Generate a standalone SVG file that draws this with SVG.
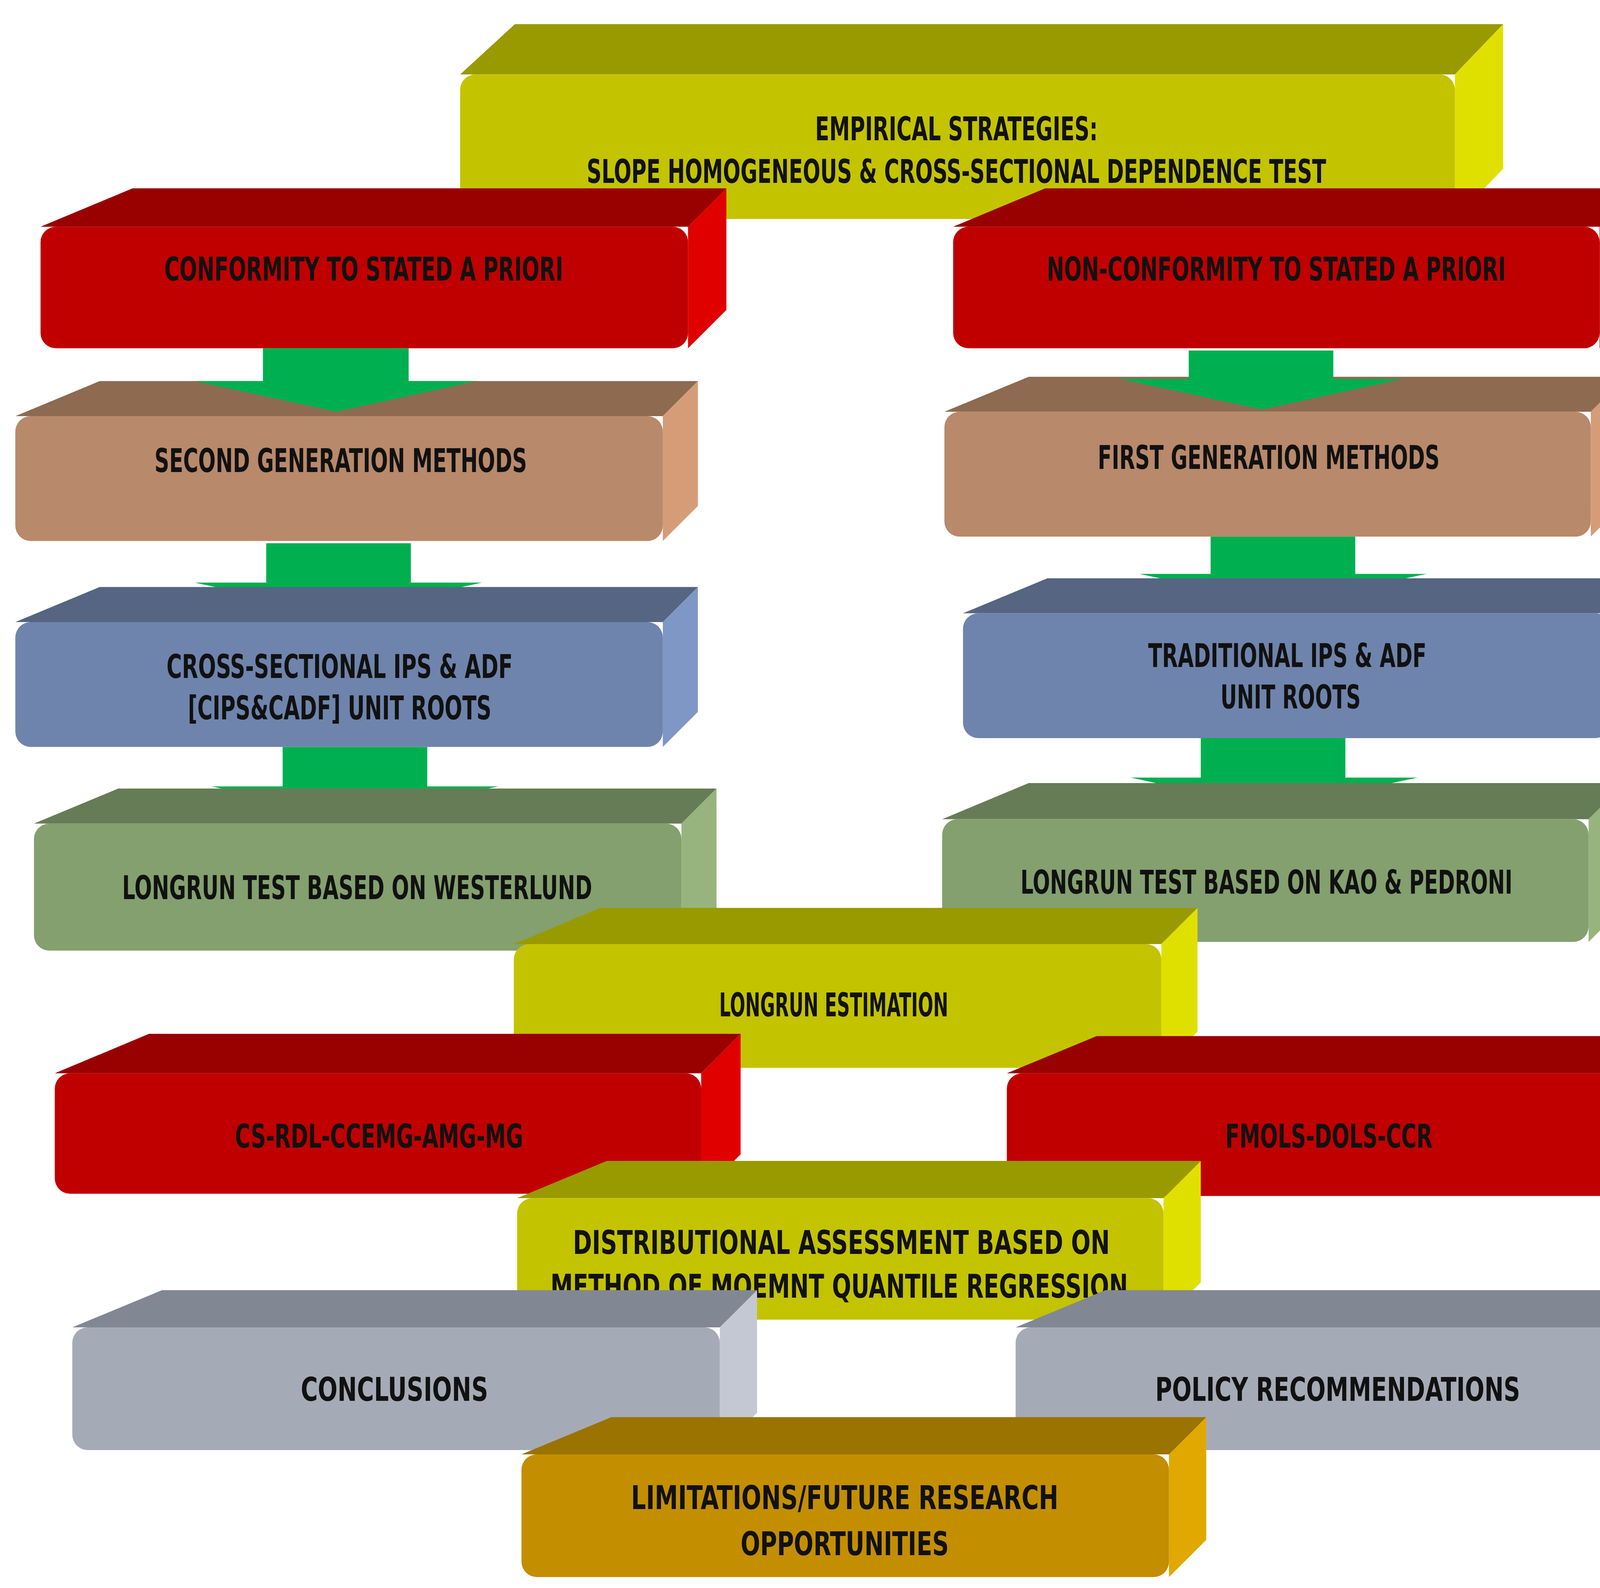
<svg xmlns="http://www.w3.org/2000/svg" width="4381" height="4064" viewBox="0 0 4381 4064">
<style>
text{font-family:"DejaVu Sans","Liberation Sans",sans-serif;font-stretch:condensed;font-weight:bold;fill:#111;text-anchor:middle;font-size:30px}
.yf{fill:#C3C300}.yt{fill:#999900}.ys{fill:#E0E000}
.rf{fill:#C00000}.rt{fill:#990000}.rs{fill:#E00000}
.bf{fill:#B8896A}.bt{fill:#8E6A50}.bs{fill:#D49D78}
.lf{fill:#6E84AC}.lt{fill:#556582}.ls{fill:#7F97C5}
.gf{fill:#84A06E}.gt{fill:#667C56}.gs{fill:#97B47E}
.sf{fill:#A5ABB6}.st{fill:#828794}.ss{fill:#C3C8D3}
.of{fill:#C38E00}.ot{fill:#9A7300}.os{fill:#E0A800}
.arr{fill:#00B050}
</style>
<rect width="4381" height="4064" fill="#fff"/>
<g transform="scale(2.8047 2.8028)">
<g id="empirical"><polygon class="yt" points="420,68 470,22 1372,22 1328,68"/><polygon class="ys" points="1328,68 1372,22 1372,154 1328,200"/><rect class="yf" x="420" y="68" width="908" height="132" rx="14"/><text x="873" y="128" textLength="258" lengthAdjust="spacingAndGlyphs">EMPIRICAL STRATEGIES:</text><text x="873" y="167" textLength="675" lengthAdjust="spacingAndGlyphs">SLOPE HOMOGENEOUS &amp; CROSS-SECTIONAL DEPENDENCE TEST</text></g>
<g id="conformity"><polygon class="rt" points="37,207 121,172 663,172 628,207"/><polygon class="rs" points="628,207 663,172 663,283 628,318"/><rect class="rf" x="37" y="207" width="591" height="111" rx="14"/><text x="332" y="256" textLength="364" lengthAdjust="spacingAndGlyphs">CONFORMITY TO STATED A PRIORI</text></g>
<g id="nonconformity"><polygon class="rt" points="870,207 954,172 1495,172 1460,207"/><polygon class="rs" points="1460,207 1495,172 1495,283 1460,318"/><rect class="rf" x="870" y="207" width="590" height="111" rx="14"/><text x="1165" y="256" textLength="419" lengthAdjust="spacingAndGlyphs">NON-CONFORMITY TO STATED A PRIORI</text></g>
<g id="second"><polygon class="bt" points="14,380 91,348 637,348 605,380"/><polygon class="bs" points="605,380 637,348 637,462 605,494"/><rect class="bf" x="14" y="380" width="591" height="114" rx="14"/><text x="311" y="431" textLength="340" lengthAdjust="spacingAndGlyphs">SECOND GENERATION METHODS</text></g>
<g id="first"><polygon class="bt" points="862,376 939,344 1484,344 1452,376"/><polygon class="bs" points="1452,376 1484,344 1484,458 1452,490"/><rect class="bf" x="862" y="376" width="590" height="114" rx="14"/><text x="1158" y="428" textLength="312" lengthAdjust="spacingAndGlyphs">FIRST GENERATION METHODS</text></g>
<g id="connectors">
<polygon class="arr" points="240,318 373,318 373,348 435,348 307,376 178,348 240,348"/>
<polygon class="arr" points="1085,320 1217,320 1217,346 1280,346 1152,374 1022,346 1085,346"/>
<polygon class="arr" points="243,496 375,496 375,532 440,532 309,560 178,532 243,532"/>
<polygon class="arr" points="1105,490 1237,490 1237,524 1302,524 1171,552 1040,524 1105,524"/>
<polygon class="arr" points="258,682 390,682 390,718 455,718 324,746 193,718 258,718"/>
<polygon class="arr" points="1096,674 1228,674 1228,710 1294,710 1162,738 1032,710 1096,710"/>
</g>
<g id="cross"><polygon class="lt" points="14,568 91,536 637,536 605,568"/><polygon class="ls" points="605,568 637,536 637,650 605,682"/><rect class="lf" x="14" y="568" width="591" height="114" rx="14"/><text x="310" y="619" textLength="316" lengthAdjust="spacingAndGlyphs">CROSS-SECTIONAL IPS &amp; ADF</text><text x="310" y="657" textLength="277" lengthAdjust="spacingAndGlyphs">[CIPS&amp;CADF] UNIT ROOTS</text></g>
<g id="traditional"><polygon class="lt" points="879,560 956,528 1502,528 1470,560"/><polygon class="ls" points="1470,560 1502,528 1502,642 1470,674"/><rect class="lf" x="879" y="560" width="591" height="114" rx="14"/><text x="1175" y="609" textLength="254" lengthAdjust="spacingAndGlyphs">TRADITIONAL IPS &amp; ADF</text><text x="1178" y="647" textLength="128" lengthAdjust="spacingAndGlyphs">UNIT ROOTS</text></g>
<g id="westerlund"><polygon class="gt" points="31,752 108,720 654,720 622,752"/><polygon class="gs" points="622,752 654,720 654,836 622,868"/><rect class="gf" x="31" y="752" width="591" height="116" rx="14"/><text x="326" y="821" textLength="429" lengthAdjust="spacingAndGlyphs">LONGRUN TEST BASED ON WESTERLUND</text></g>
<g id="kao"><polygon class="gt" points="860,748 939,715 1483,715 1450,748"/><polygon class="gs" points="1450,748 1483,715 1483,827 1450,860"/><rect class="gf" x="860" y="748" width="590" height="112" rx="14"/><text x="1156" y="816" textLength="449" lengthAdjust="spacingAndGlyphs">LONGRUN TEST BASED ON KAO &amp; PEDRONI</text></g>
<g id="estimation"><polygon class="yt" points="469,862 548,829 1093,829 1060,862"/><polygon class="ys" points="1060,862 1093,829 1093,942 1060,975"/><rect class="yf" x="469" y="862" width="591" height="113" rx="14"/><text x="761" y="928" font-size="22" textLength="209" lengthAdjust="spacingAndGlyphs">LONGRUN ESTIMATION</text></g>
<g id="csardl"><polygon class="rt" points="50,980 136,944 676,944 640,980"/><polygon class="rs" points="640,980 676,944 676,1054 640,1090"/><rect class="rf" x="50" y="980" width="590" height="110" rx="14"/><text x="346" y="1048" textLength="263" lengthAdjust="spacingAndGlyphs">CS-RDL-CCEMG-AMG-MG</text></g>
<g id="fmols"><polygon class="rt" points="919,980 1001,946 1542,946 1508,980"/><polygon class="rs" points="1508,980 1542,946 1542,1058 1508,1092"/><rect class="rf" x="919" y="980" width="589" height="112" rx="14"/><text x="1213" y="1048" textLength="189" lengthAdjust="spacingAndGlyphs">FMOLS-DOLS-CCR</text></g>
<g id="distributional"><polygon class="yt" points="472,1094 554,1060 1096,1060 1062,1094"/><polygon class="ys" points="1062,1094 1096,1060 1096,1171 1062,1205"/><rect class="yf" x="472" y="1094" width="590" height="111" rx="14"/><text x="768" y="1145" font-size="33" textLength="490" lengthAdjust="spacingAndGlyphs">DISTRIBUTIONAL ASSESSMENT BASED ON</text><text x="766" y="1185" font-size="33" textLength="527" lengthAdjust="spacingAndGlyphs">METHOD OF MOEMNT QUANTILE REGRESSION</text></g>
<g id="conclusions"><polygon class="st" points="66,1212 148,1178 691,1178 657,1212"/><polygon class="ss" points="657,1212 691,1178 691,1290 657,1324"/><rect class="sf" x="66" y="1212" width="591" height="112" rx="14"/><text x="360" y="1279" font-size="34" textLength="171" lengthAdjust="spacingAndGlyphs">CONCLUSIONS</text></g>
<g id="policy"><polygon class="st" points="927,1212 1009,1178 1551,1178 1517,1212"/><polygon class="ss" points="1517,1212 1551,1178 1551,1290 1517,1324"/><rect class="sf" x="927" y="1212" width="590" height="112" rx="14"/><text x="1221" y="1279" font-size="34" textLength="333" lengthAdjust="spacingAndGlyphs">POLICY RECOMMENDATIONS</text></g>
<g id="limitations"><polygon class="ot" points="476,1328 558,1294 1101,1294 1067,1328"/><polygon class="os" points="1067,1328 1101,1294 1101,1406 1067,1440"/><rect class="of" x="476" y="1328" width="591" height="112" rx="14"/><text x="771" y="1378" font-size="33" textLength="390" lengthAdjust="spacingAndGlyphs">LIMITATIONS/FUTURE RESEARCH</text><text x="771" y="1420" font-size="33" textLength="190" lengthAdjust="spacingAndGlyphs">OPPORTUNITIES</text></g>
</g>
</svg>
